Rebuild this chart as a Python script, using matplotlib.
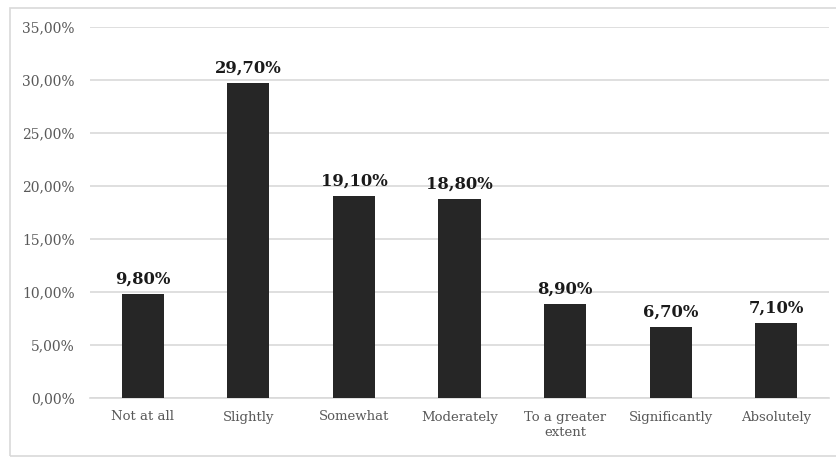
import matplotlib.pyplot as plt
from matplotlib.patches import Rectangle
from matplotlib.ticker import FuncFormatter

categories = ['Not at all', 'Slightly', 'Somewhat', 'Moderately',
              'To a greater\nextent', 'Significantly', 'Absolutely']
shares = [9.80, 29.70, 19.10, 18.80, 8.90, 6.70, 7.10]
y_ticks = [0, 5, 10, 15, 20, 25, 30, 35]

BAR_COLOR = '#262626'
GRID_COLOR = '#d9d9d9'
TICK_COLOR = '#595959'

plt.rcParams['font.family'] = ['DejaVu Serif']


def pct(v):
    return f'{v:.2f}%'.replace('.', ',')


fig = plt.figure(figsize=(8.37, 4.57), dpi=100)
ax = fig.add_axes([90 / 837, 1 - 398 / 457, 739 / 837, 371 / 457])

x = range(len(categories))
bars = ax.bar(x, shares, width=0.4, color=BAR_COLOR, zorder=3)

for rect, v in zip(bars, shares):
    ax.annotate(pct(v), (rect.get_x() + rect.get_width() / 2, v),
                xytext=(0, 7.5), textcoords='offset points',
                ha='center', va='baseline', fontsize=11.8, fontweight='bold',
                color='#1a1a1a')

ax.set_xlim(-0.5, len(categories) - 0.5)
ax.set_ylim(0, 35)
ax.set_yticks(y_ticks)
ax.yaxis.set_major_formatter(FuncFormatter(lambda v, _: pct(v)))
ax.set_xticks(list(x))
ax.set_xticklabels(categories, linespacing=1.25)

ax.grid(axis='y', color=GRID_COLOR, linewidth=1.2, zorder=0)
ax.tick_params(axis='both', length=0, colors=TICK_COLOR)
ax.tick_params(axis='y', pad=11, labelsize=10)
ax.tick_params(axis='x', pad=9, labelsize=9.5)
for s in ['top', 'right', 'left']:
    ax.spines[s].set_visible(False)
ax.spines['bottom'].set_color(GRID_COLOR)
ax.spines['bottom'].set_linewidth(1.2)

# light frame around the whole chart
fig.patches.append(Rectangle((10 / 837, 1 / 457), 1.0, 448 / 457,
                             transform=fig.transFigure, fill=False,
                             edgecolor='#d9d9d9', linewidth=1.2))

fig.savefig('out.png', dpi=100)
